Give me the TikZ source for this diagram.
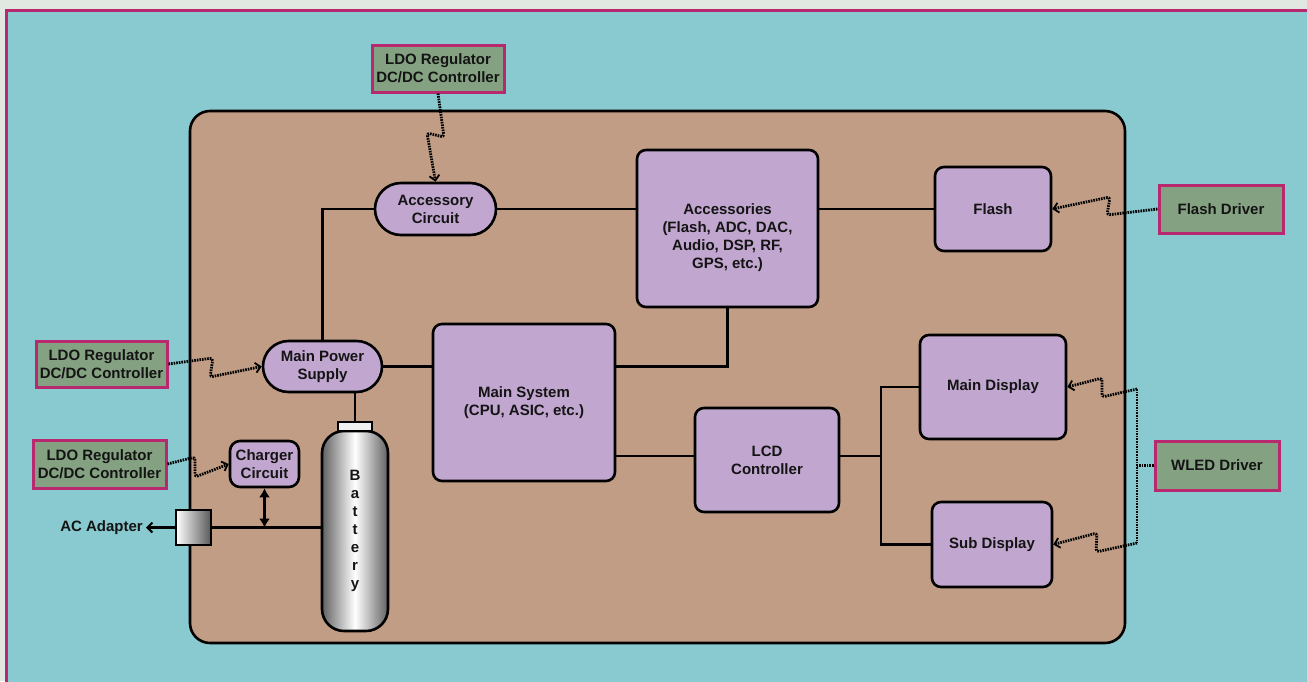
\documentclass[tikz,border=0pt]{standalone}
\usepackage{fontspec}
\setmainfont{Liberation Sans}
\setsansfont{Liberation Sans}
\usetikzlibrary{arrows.meta,shapes.misc}
\definecolor{bgout}{HTML}{E1E7E1}
\definecolor{teal}{HTML}{88CACF}
\definecolor{frameM}{HTML}{B8286E}
\definecolor{boardtan}{HTML}{C19D85}
\definecolor{boxpurple}{HTML}{C1A6CF}
\definecolor{boxgreen}{HTML}{84A282}
\tikzset{
 txt/.style={font=\sffamily\bfseries\fontsize{15}{18}\selectfont, align=center, text=black!92},
 pbox/.style={txt, draw=black, line width=2.6pt, fill=boxpurple, rounded corners=9pt, inner sep=0pt},
 gbox/.style={txt, draw=frameM, line width=3pt, fill=boxgreen, inner sep=0pt},
 stad/.style={txt, rounded rectangle, draw=black, line width=2.6pt, fill=boxpurple, inner sep=0pt},
 wire/.style={line width=2.6pt},
 sigline/.style={line width=2.8pt, dash pattern=on 1.6pt off 1pt, rounded corners=3pt},
 sig/.style={sigline, -{Straight Barb[length=5pt,width=10pt,line width=1.8pt]}},
}
\begin{document}
\begin{tikzpicture}[x=1pt,y=-1pt]
\useasboundingbox (0,0) rectangle (1307,681);
\clip (0,0) rectangle (1307,681);
\fill[bgout] (0,0) rectangle (1307,681);
\draw[frameM, line width=3pt, fill=teal] (6,10) rectangle (1340,720);
\draw[line width=2.6pt, fill=boardtan, rounded corners=20pt] (190,111) rectangle (1125,643);

% nodes
\node[gbox, minimum width=132pt, minimum height=47pt] (ldoT) at (438,68.5) {LDO Regulator\\DC/DC Controller};
\node[stad, minimum width=121pt, minimum height=52pt] (acc) at (435.5,209) {Accessory\\Circuit};
\node[pbox, minimum width=181pt, minimum height=157pt] (accs) at (727.5,228.5) {};
\node[txt] at (727.5,237.5) {Accessories\\(Flash, ADC, DAC,\\Audio, DSP, RF,\\GPS, etc.)};
\node[pbox, minimum width=116pt, minimum height=84pt] (flash) at (993,209) {Flash};
\node[gbox, minimum width=124pt, minimum height=48pt] (fd) at (1221,209) {Flash Driver};
\node[gbox, minimum width=131pt, minimum height=46pt] (ldo1) at (101.5,364) {LDO Regulator\\DC/DC Controller};
\node[stad, minimum width=119pt, minimum height=51pt] (mps) at (322.5,366.5) {Main Power\\Supply};
\node[pbox, minimum width=182pt, minimum height=157pt] (ms) at (524,402.5) {Main System\\(CPU, ASIC, etc.)};
\node[pbox, minimum width=146pt, minimum height=104pt] (md) at (993,387) {Main Display};
\node[pbox, minimum width=144pt, minimum height=104pt] (lcd) at (767,460) {LCD\\Controller};
\node[pbox, minimum width=120pt, minimum height=85pt] (sd) at (992,544.5) {Sub Display};
\node[gbox, minimum width=124pt, minimum height=49pt] (wled) at (1217,465.5) {WLED Driver};
\node[gbox, minimum width=133pt, minimum height=48pt] (ldo2) at (99.5,464) {LDO Regulator\\DC/DC Controller};
\node[pbox, rounded corners=10pt, minimum width=69pt, minimum height=46pt] (chg) at (264.5,464) {Charger\\Circuit};
\node[txt, draw=black, line width=2.6pt, rounded corners=22pt, inner sep=0pt,
      left color=black!62, right color=black!62, middle color=white,
      minimum width=66pt, minimum height=200pt] (batt) at (355,531) {B\\a\\t\\t\\e\\r\\y};
\node[draw=black, line width=2.6pt, fill=black!6, inner sep=0pt, minimum width=34pt, minimum height=9pt] (cap) at (355,426.5) {};
\node[draw=black, line width=2.6pt, left color=white, right color=black!65, inner sep=0pt, minimum width=35pt, minimum height=35pt] (acbox) at (193.5,527.5) {};
\node[txt, anchor=east, inner sep=0pt] (aclbl) at (143,527.5) {AC Adapter};

% wires
\draw[wire] (acbox.east) -- (acbox.east -| batt.west);
\draw[wire, -{Straight Barb[length=5pt,width=10pt,line width=2pt]}] (acbox.west) -- ([xshift=3pt]aclbl.east);
\draw[line width=3.2pt, {Latex[length=9pt,width=11pt]}-{Latex[length=9pt,width=11pt]}] (chg.south) -- (chg.south |- acbox.east);
\draw[wire] (mps.north) -- (mps.north |- acc.west) -- (acc.west);
\draw[wire] (acc.east) -- (accs.west |- acc.east);
\draw[wire] (accs.east |- flash.west) -- (flash.west);
\draw[wire] (mps.east) -- (ms.west |- mps.east);
\draw[wire] (cap.north) -- (cap.north |- mps.south);
\draw[wire] (ms.east |- mps.east) -| (accs.south);
\coordinate (lcdin) at ([yshift=4pt]lcd.west);
\coordinate (lcdout) at ([yshift=4pt]lcd.east);
\coordinate (br) at (881,456);
\draw[wire] (ms.east |- lcdin) -- (lcdin);
\draw[wire] (lcdout) -- (lcdout -| br);
\draw[wire] (md.west) -- (md.west -| br) -- (sd.west -| br) -- (sd.west);

% signal squiggles
\draw[sig] (ldoT.south) -- (444,137) -- (427,133) -- (acc.north);
\draw[sig] (fd.west) -- (1107,215) -- (1110,197) -- (flash.east);
\draw[sig] (ldo1.east) -- (213,358) -- (210,377) -- (mps.west);
\draw[sig] (ldo2.east) -- (195,457) -- (195,477) -- (chg.west);
\coordinate (w1) at (1137,389);
\coordinate (w2) at (1137,543);
\draw[sigline, rounded corners=0pt] (w1) -- (w2);
\draw[sigline] (wled.west) -- (wled.west -| w1);
\draw[sig] (w1) -- (1102,397) -- (1102,378) -- (md.east);
\draw[sig] (w2) -- (1096,552) -- (1097,533) -- (sd.east);
\end{tikzpicture}
\end{document}
